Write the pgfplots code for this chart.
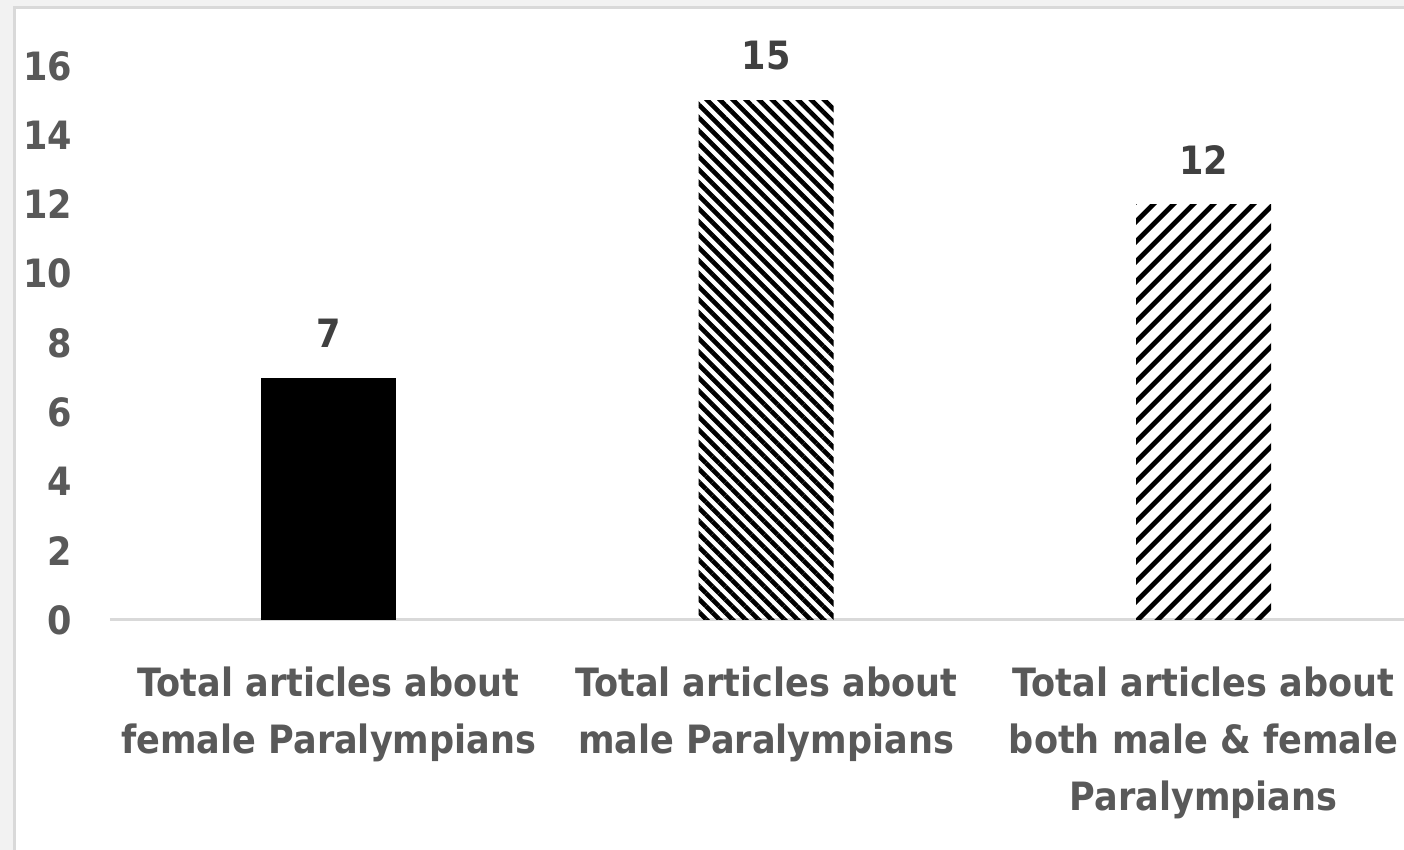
\documentclass[border=0pt]{standalone}
\usepackage{fontspec}
\setmainfont{DejaVu Sans Condensed}
\usepackage{pgfplots}
\pgfplotsset{compat=1.18}
\usetikzlibrary{patterns.meta}
\definecolor{txt}{HTML}{595959}
\definecolor{lbl}{HTML}{404040}
\definecolor{axgray}{HTML}{D9D9D9}
\definecolor{outer}{HTML}{F2F2F2}
\begin{document}
\begin{tikzpicture}[font=\fontsize{19.5}{28.5}\selectfont\bfseries]
\path[use as bounding box] (0,0) rectangle (702pt,425pt);
\fill[outer] (0,0) rectangle (702pt,425pt);
\fill[white] (7pt,0) rectangle (702pt,421pt);
\draw[axgray, line width=1.5pt] (7pt,-2pt) -- (7pt,421pt) -- (704pt,421pt);
\begin{axis}[
  at={(55pt,115pt)}, anchor=south west,
  scale only axis, width=647pt, height=277pt,
  xmin=-0.5, xmax=2.458, ymin=0, ymax=16,
  ytick={0,2,...,16}, xtick={0,1,2},
  xticklabels={{Total articles about\\female Paralympians},{Total articles about\\male Paralympians},{Total articles about\\both male \& female\\Paralympians}},
  xticklabel style={align=center, text=txt, yshift=-20pt},
  yticklabel style={text=txt, xshift=-15.5pt},
  /pgf/number format/assume math mode=true,
  axis x line*=bottom, axis y line*=left,
  y axis line style={draw=none},
  x axis line style={axgray, line width=1.5pt, -},
  major tick length=0pt,
  ybar, bar width=67.5pt, bar shift=0pt,
  nodes near coords,
  every node near coord/.append style={text=lbl, yshift=11.5pt},
  clip=false,
]
\addplot[fill=black, draw=none] coordinates {(0,7)};
\addplot[draw=none, pattern={Lines[angle=-45,distance=4.6pt,line width=2.3pt]}] coordinates {(1,15)};
\addplot[draw=none, pattern={Lines[angle=45,distance=7.4pt,line width=2.6pt]}] coordinates {(2,12)};
\end{axis}
\end{tikzpicture}
\end{document}
